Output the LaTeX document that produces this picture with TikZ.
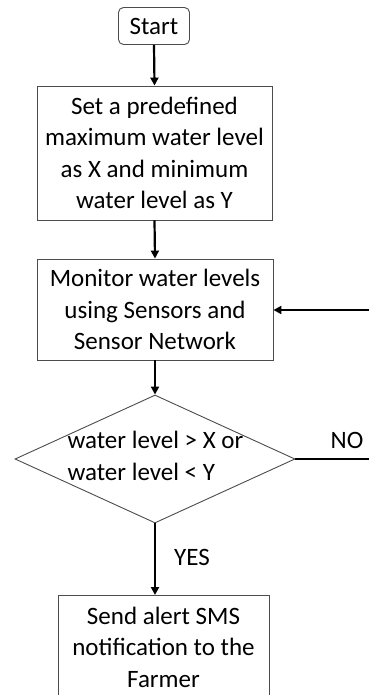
\documentclass[tikz,border=0pt]{standalone}
\usepackage{fontspec}
\setmainfont{Carlito}
\usetikzlibrary{arrows.meta,shapes.geometric}
\begin{document}
\begin{tikzpicture}[x=1pt,y=-1pt,
  box/.style={draw=black!70,line width=0.9pt,inner sep=0pt},
  arr/.style={line width=2.2pt,-{Triangle[length=8pt,width=8pt]}},
  lbl/.style={font=\fontsize{25}{31.5}\selectfont},
  every node/.style={lbl}]
\clip (0,0) rectangle (369,695);
\fill[white] (0,0) rectangle (369,695);
\node[box,rounded corners=5pt,minimum width=71pt,minimum height=37pt] (start) at (154,26) {Start};
\node[box,minimum width=235pt,minimum height=134pt,align=center] (b1) at (154.5,153) {Set a predefined\\maximum water level\\as X and minimum\\water level as Y};
\node[box,minimum width=236pt,minimum height=101pt,align=center] (b2) at (155,309.5) {Monitor water levels\\using Sensors and\\Sensor Network};
\node[draw=black!70,line width=0.9pt,diamond,aspect=2.2,minimum width=280pt,minimum height=128pt,inner sep=0pt] (d) at (155,459) {};
\node[anchor=west,align=left] (dt) at (64,456) {water level > X or\\water level < Y};
\node[box,minimum width=211pt,minimum height=140pt,anchor=north,align=center,text depth=0pt] (b3) at (163.5,595) {};
\node[align=center] (b3t) at (163.5,647) {Send alert SMS\\notification to the\\Farmer};
\coordinate (r1) at (369,310);
\coordinate (r2) at (369,459);
\draw[arr] (start.south) -- (b1.north);
\draw[arr] (b1.south) -- (b2.north);
\draw[arr] (b2.south) -- (d.north);
\draw[arr] (d.south) -- (d.south |- b3.north);
\draw[arr] (r1) -- (b2.east |- r1);
\draw[line width=2.2pt] (d.east) -- (r2);
\node (no) at (347,440) {NO};
\node (yes) at (192,557) {YES};
\end{tikzpicture}
\end{document}
